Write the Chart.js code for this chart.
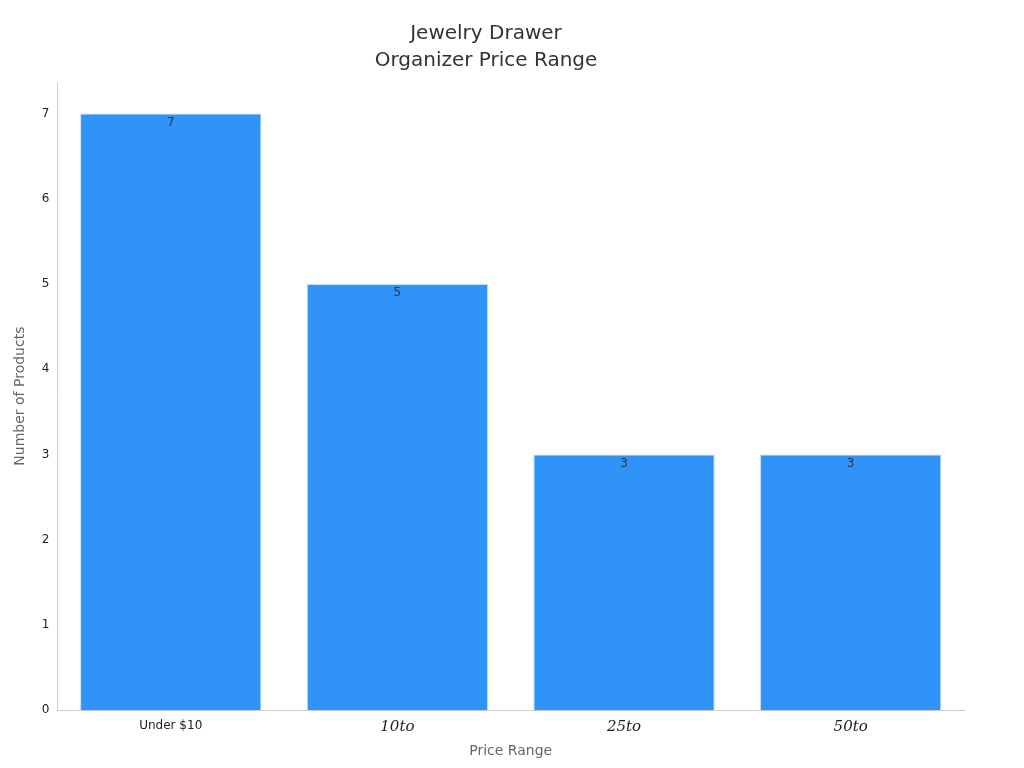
<!DOCTYPE html>
<html><head><meta charset="utf-8">
<script src="https://cdn.jsdelivr.net/npm/chart.js@4/dist/chart.umd.min.js"></script>
<style>html,body{margin:0;padding:0;background:#fff}#w{width:1024px;height:768px}</style>
</head><body><div id="w"><canvas id="c"></canvas></div>
<script>
const categories = ["Under $10", "10to", "25to", "50to"];
const values = [7, 5, 3, 3];
const yTicks = [0,1,2,3,4,5,6,7];

const valueLabels = {
  id: 'valueLabels',
  afterDatasetsDraw(chart) {
    const ctx = chart.ctx;
    const meta = chart.getDatasetMeta(0);
    ctx.save();
    ctx.font = '12px "DejaVu Sans"';
    ctx.fillStyle = '#333';
    ctx.textAlign = 'center';
    ctx.textBaseline = 'top';
    meta.data.forEach((bar, i) => {
      ctx.fillText(String(values[i]), bar.x, bar.y + 3);
    });
    ctx.restore();
  }
};

new Chart(document.getElementById('c'), {
  type: 'bar',
  data: { labels: categories, datasets: [{ data: values, backgroundColor: '#3093f8', borderColor: '#c8dcf0', borderWidth: 1, categoryPercentage: 1, barPercentage: 0.8 }] },
  options: {
    responsive: true, maintainAspectRatio: false, animation: false,
    layout: { padding: { left: 8, right: 60, top: 10, bottom: 4 } },
    plugins: {
      legend: { display: false }, tooltip: { enabled: false },
      title: { display: true, text: ['Jewelry Drawer', 'Organizer Price Range'], color: '#333', font: { family: 'DejaVu Sans', size: 20, weight: 'normal', lineHeight: 1.35 }, padding: { top: 10, bottom: 8 } }
    },
    scales: {
      x: {
        grid: { display: false, drawTicks: true, tickLength: 5, tickColor: '#999' },
        border: { color: '#ccc' },
        ticks: { color: '#222', padding: 3,
          font: ctx => ctx.index > 0 ? { family: 'DejaVu Serif', style: 'italic', size: 15 } : { family: 'DejaVu Sans', size: 12 } },
        title: { display: true, text: 'Price Range', color: '#666', font: { family: 'DejaVu Sans', size: 14 }, padding: { top: 4 } }
      },
      y: {
        min: 0, max: 7.37,
        afterBuildTicks: ax => { ax.ticks = yTicks.map(v => ({ value: v })); },
        grid: { display: false, drawTicks: true, tickLength: 5, tickColor: '#999' },
        border: { color: '#ccc' },
        ticks: { color: '#222', font: { family: 'DejaVu Sans', size: 12 }, padding: 3 },
        title: { display: true, text: 'Number of Products', color: '#666', font: { family: 'DejaVu Sans', size: 14 }, padding: { bottom: 10 } }
      }
    }
  },
  plugins: [valueLabels]
});
</script></body></html>
